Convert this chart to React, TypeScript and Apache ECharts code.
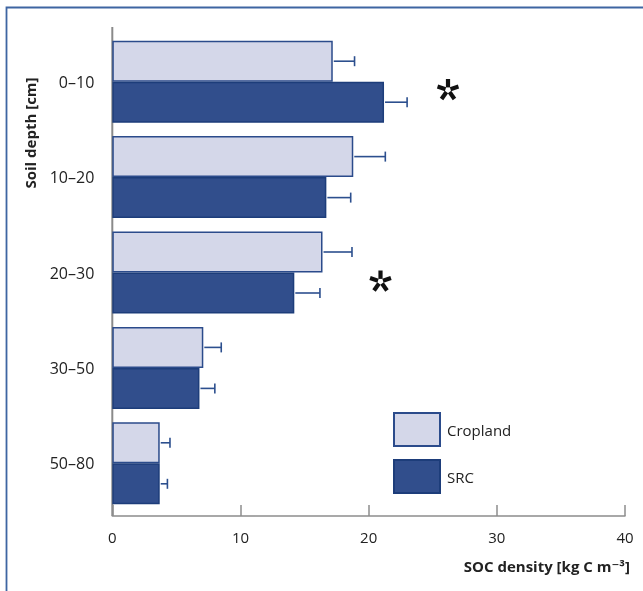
import React, { useEffect, useRef } from "react";
import * as echarts from "echarts";

const depthCategories = ["0–10", "10–20", "20–30", "30–50", "50–80"];
const croplandValues = [17.2, 18.8, 16.4, 7.1, 3.7];
const croplandErrors = [1.7, 2.5, 2.3, 1.4, 0.8];
const srcValues = [21.2, 16.7, 14.2, 6.8, 3.7];
const srcErrors = [1.8, 1.9, 2.0, 1.2, 0.6];
const xTicks = [0, 10, 20, 30, 40];

const FONT = "'Open Sans', 'DejaVu Sans', sans-serif";
const CROP_FILL = "#d4d7e9";
const CROP_BORDER = "#2b4b8b";
const SRC_FILL = "#314e8c";
const SRC_BORDER = "#1d3d7a";
const ERR_COLOR = "#2c4f8e";
const BAR_W = 41;

function errorSeries(name: string, values: number[], errs: number[], offset: number) {
  return {
    type: "custom",
    name: name + " error",
    z: 3,
    silent: true,
    encode: { x: 1, y: 0 },
    data: values.map((v, i) => [i, v, errs[i]]),
    renderItem: (params: any, api: any) => {
      const cat = api.value(0);
      const v = api.value(1);
      const e = api.value(2);
      const p0 = api.coord([v, cat]);
      const p1 = api.coord([v + e, cat]);
      const y = p0[1] + offset;
      const style = { stroke: ERR_COLOR, lineWidth: 1.6 };
      return {
        type: "group",
        children: [
          { type: "line", shape: { x1: p0[0] + 1, y1: y, x2: p1[0], y2: y }, style },
          { type: "line", shape: { x1: p1[0], y1: y - 5, x2: p1[0], y2: y + 5 }, style },
        ],
      };
    },
  };
}

function asterisk(cx: number, cy: number) {
  const children: any[] = [];
  for (let k = 0; k < 5; k++) {
    const a = -Math.PI / 2 + (k * 2 * Math.PI) / 5;
    const r0 = 2.6;
    const r1 = 11;
    children.push({
      type: "line",
      shape: {
        x1: cx + r0 * Math.cos(a),
        y1: cy + r0 * Math.sin(a),
        x2: cx + r1 * Math.cos(a),
        y2: cy + r1 * Math.sin(a),
      },
      style: { stroke: "#111", lineWidth: 4.2, lineCap: "butt" },
    });
  }
  return { type: "group", children };
}

export default function App() {
  const ref = useRef<HTMLDivElement>(null);
  useEffect(() => {
    if (!ref.current) return;
    const chart = echarts.init(ref.current, null, { renderer: "svg" });
    chart.setOption({
      animation: false,
      textStyle: { fontFamily: FONT },
      grid: { left: 112.3, right: 18, top: 34, bottom: 80, containLabel: false },
      legend: {
        orient: "vertical",
        left: 393,
        top: 412,
        itemWidth: 46,
        itemHeight: 33,
        itemGap: 12,
        padding: 0,
        icon: "rect",
        data: ["Cropland", "SRC"],
        textStyle: { fontSize: 15, color: "#222", fontFamily: FONT, padding: [0, 0, 0, 2] },
      },
      xAxis: {
        type: "value",
        min: xTicks[0],
        max: xTicks[xTicks.length - 1],
        interval: 10,
        offset: 5,
        axisLine: { show: true, lineStyle: { color: "#8c8c8c", width: 1.5 } },
        axisTick: { show: true, inside: true, length: 11, lineStyle: { color: "#8c8c8c", width: 1.5 } },
        splitLine: { show: false },
        axisLabel: { fontSize: 15, color: "#222", margin: 13, fontFamily: FONT },
      },
      yAxis: {
        type: "category",
        data: depthCategories,
        inverse: true,
        axisLine: { show: false },
        axisTick: { show: false },
        axisLabel: { fontSize: 16, color: "#222", margin: 18, fontFamily: FONT },
      },
      series: [
        {
          type: "bar",
          name: "Cropland",
          data: croplandValues,
          barWidth: BAR_W,
          barGap: "0%",
          itemStyle: { color: CROP_FILL, borderColor: CROP_BORDER, borderWidth: 1.5 },
        },
        {
          type: "bar",
          name: "SRC",
          data: srcValues,
          barWidth: BAR_W,
          barGap: "0%",
          itemStyle: { color: SRC_FILL, borderColor: SRC_BORDER, borderWidth: 1.5 },
        },
        errorSeries("Cropland", croplandValues, croplandErrors, -BAR_W / 2),
        errorSeries("SRC", srcValues, srcErrors, BAR_W / 2),
      ],
      graphic: [
        {
          type: "polyline",
          z: 0,
          shape: { points: [[6.5, 591], [6.5, 7.5], [643, 7.5]] },
          style: { stroke: "#3e65a2", lineWidth: 1.8, fill: "none" },
        },
        {
          type: "line",
          z: 0,
          shape: { x1: 112.3, y1: 27, x2: 112.3, y2: 516 },
          style: { stroke: "#8a8a8a", lineWidth: 2 },
        },
        {
          type: "text",
          x: 630,
          y: 566,
          style: {
            text: "SOC density [kg C m⁻³]",
            font: "bold 15px " + FONT,
            fill: "#222",
            textAlign: "right",
            textVerticalAlign: "middle",
          },
        },
        {
          type: "text",
          x: 30,
          y: 133,
          rotation: Math.PI / 2,
          style: {
            text: "Soil depth [cm]",
            font: "bold 15px " + FONT,
            fill: "#222",
            textAlign: "center",
            textVerticalAlign: "middle",
          },
        },
        asterisk(448, 90),
        asterisk(380.5, 281.5),
      ],
    });
    return () => chart.dispose();
  }, []);
  return <div ref={ref} style={{ position: "fixed", left: 0, top: 0, width: 643, height: 591 }} />;
}
